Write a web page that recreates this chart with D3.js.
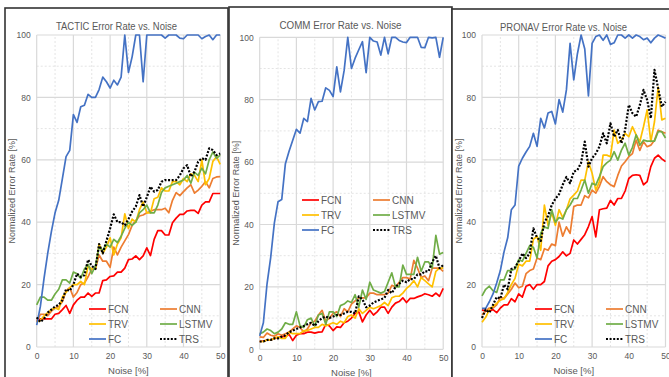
<!DOCTYPE html>
<html>
<head>
<meta charset="utf-8">
<script src="https://cdn.jsdelivr.net/npm/d3@7/dist/d3.min.js"></script>
<style>
  body { margin: 0; background: #fff; }
  svg { display: block; font-family: "Liberation Sans", Arial, sans-serif; }
</style>
</head>
<body>
<div id="chart"></div>
<script>
// noise levels (x categories)
var noise = d3.range(0, 51);
var yTicks = [0, 20, 40, 60, 80, 100];
var xTicks = [0, 10, 20, 30, 40, 50];
var seriesNames = ["FCN", "CNN", "TRV", "LSTMV", "FC", "TRS"];
var titles = ["TACTIC Error Rate vs. Noise", "COMM Error Rate vs. Noise", "PRONAV Error Rate vs. Noise"];

// TACTIC
var tacticFCN = [8.5,9,9,9,9,10.5,10.8,12,13.3,10.8,13.5,15,16,16,17.3,16.2,17.3,17.3,21.3,21.5,22.6,22.8,24,24,25.3,28,28.2,29.2,28,29.2,31.8,29.3,34.5,37.3,37.3,35.9,35.9,39.8,41.3,42.5,42.5,43.6,43.8,43.8,42.8,45.5,46.5,46.5,49.2,49.2,49.2];
var tacticCNN = [8,10.5,10.5,10,11.5,12.5,13,14.5,18,19,16,17.5,20,20.5,22.5,25,25,29.5,27.5,27.5,25.5,32,29.5,32,34,36,39,40.5,42,42.3,43,43.5,44,44,44,44.5,43,47,49.5,48.5,49.8,51,52,49.3,50.3,51.5,53,51,54,54.5,54.6];
var tacticTRV = [8,8.5,10,11,12,12.5,12,16,17.5,19,20,20,21,20,26,25,25,33,30,32,35,29.5,33,35,42.7,38,41,40,44,46.5,43,43,47.5,48,51,50,50,53,53,52,54,53,55.5,55,53,60,52,54,59.5,61,58.5];
var tacticLSTMV = [13.5,16,16,15,15,17,18.5,21.5,21.5,20.5,24,23.5,22,25,26.5,23.5,26,32,31,33,32,34.5,33.5,35.5,38,40,39,40,43,44,45.5,43,43,45.5,49.5,51,51.5,52,52.5,53,53.5,55,52.5,56,55,57.3,55.5,60,62.5,60.5,61.5];
var tacticFC = [7,13,22,30,37,43,47,54,61,63,74.5,72,77,77.5,81,80,80,82.5,86.5,85,83,85.5,84,86.5,100,88,93,100,100,85,100,100,100,100,100,99,100,100,100,99,98.8,100,100,100,100,98.8,99.5,100,98.5,100,100];
var tacticTRS = [9.5,8,9,11,12,13,13.5,15,18.5,18,20,23.5,22.5,23,28,26,25,33,30,34,38,42.5,40,40,39,41,43.4,45,48.7,45,48,51.4,49.8,50.3,53,53.5,53.5,53.5,53.5,55,57.3,58.3,54.6,56.2,59.4,60.5,60,63.7,63.1,61.5,62];

// COMM
var commFCN = [2.5,2.6,3,3,3.5,3.8,4.2,4,4.8,2.8,4.5,5,5,5.5,5.5,5.2,5.5,5.6,8,7.5,6,7.2,7,8.5,9,10,11.5,12,8.8,11,12.5,11,12,13.5,13.5,11.5,13.5,14.8,15.3,16.5,15,16.3,16.3,16.8,17.2,17.8,17.5,17,18,17,19.5];
var commCNN = [4,3.8,5.2,4.5,4.2,5,4.5,5,5.5,6.5,7.5,7,5.5,6.5,8.5,9,11,12.5,9,10,11.5,12,10.5,13,12,14.5,15.5,16.5,16.5,16.5,18,18,17.5,17.5,17.5,18,20.5,20,21.5,23,23,22.5,28.5,26,23,23.5,22,26,26,26,25];
var commTRV = [2.5,2.5,3,3,3.5,4,3.5,3.5,5.5,5,5,5,6,6,6.5,7,7,8,7.5,8,8.5,8,9,8.5,10.5,11,10,13,11.5,12.5,13.5,13,13.5,14,15,14,16.5,17,17,18,19.5,20.5,22,20,23,22,21,20,25,26,26];
var commLSTMV = [5,5.5,6.5,6,5,5.5,6.5,8.5,8,8,12,7.5,7,9.5,10,7.5,11,11.5,8,12,12,10.5,14,14.5,15.5,15,17.5,13.5,19,16,21.5,19,18.5,18,18.5,21.5,24.5,20,20,27,24,24,24,29.5,25,28,28,26,36.5,30.5,31];
var commFC = [4.3,8.5,21,29.5,40.5,47.3,48,59.5,63.5,67,70.5,69.3,74,73,80.4,76.7,79.4,79.5,83.8,83,81,90.5,82.5,89.3,100,90,93.3,96,98.6,88.7,100,98.8,98.5,94.3,100,94.7,100,100,99,98.5,98.3,100,100,100,96.8,96.7,100,99.8,100,93.6,100];
var commTRS = [2.5,2.5,3,3,3.5,3.5,4,4.5,5.5,6,6.5,7,7.5,8,8.5,7.5,9,10,10.5,10,10.5,11,11,11.5,12,12,11.5,17,16,13.5,14,15,15.5,16,16.5,19,18,20,21,22,21.5,22.5,22.5,24,24,25,25,28,30,26,27];

// PRONAV
var pronavFCN = [11.9,11.5,11.5,12,11,12.5,13.5,13.5,15.5,14.5,17,16,19.5,20,18.5,20,20,21,26,27.5,28,29,30.5,29.2,30,34.3,33,34.5,36,38.6,41.8,35.3,44,44.3,44.5,47,45.5,47.6,47.6,50,54,55,55.2,55,52,53,57.8,60.5,61.5,60.3,59.4];
var pronavCNN = [10.3,11.5,12.5,12.5,13.5,16,15.5,17,18.5,20.5,19,19.5,23.5,24.5,25,28.5,28,31.5,31,33,32.5,40,35.5,38.5,36.4,45,45.5,45.5,48.5,47.8,50.3,49.3,51.5,54.6,53,52,51.4,55,58,59.4,61,62,66.3,63,65.8,64.2,64.7,66.3,69.5,69,68.5];
var pronavTRV = [7.9,9.5,12,13,14,15,15.5,17.5,20,22,26.5,26,27.5,27.5,34.5,35.5,31,45.5,39,43,39,44,41.5,44,47.5,48.7,50,53.5,53.5,59.4,55.7,50.3,53,61.5,61.5,61,69.5,65.3,66.3,68.5,67.4,70.6,68,65.8,70.6,76,65.8,72.2,83.3,72.8,73.3];
var pronavLSTMV = [16.4,18.5,19.5,18,17.5,21.5,21.5,24.5,24.5,25,28,27.5,30,32.5,32,28.5,36.5,38.5,38,44,40,41.5,41,44,45.5,47.6,47.6,50.3,53.5,49.3,52.5,51.9,54.6,57.8,59,59.9,62.6,59.9,63.1,65.3,61.5,64,68,64.7,66.3,66,66,66,69,69,67];
var pronavFC = [12.4,12.4,14.5,17,20.5,24.5,30.5,35,44,45.5,58,60.5,62.5,64.3,68.5,64.3,73.3,70.2,75,75.5,71.5,79.3,75.3,82.4,97.3,85.6,94,100,95.5,80.5,97.3,99.5,100,98.3,100,97,97.5,100,100,99,100,99,100,99.5,98.5,99,97.5,99,100,99.5,99];
var pronavTRS = [9.3,12,11,13.5,16,15.5,20,18.5,25,25.5,27.5,30,28.5,30,38,35,34,40,42,45.5,47.5,49,52,54.5,52.5,56.2,56.7,59,65.8,57.8,60.5,62,64.2,68.5,65.3,71.7,67.4,69.6,65.3,69.6,77.6,74.9,73.8,77.5,82.4,79.2,73.3,88.8,82.9,77,78.6];

var colors = {FCN: "#ff0000", CNN: "#ed7d31", TRV: "#ffc000", LSTMV: "#70ad47", FC: "#4472c4", TRS: "#000000"};

var panels = [
  {title: titles[0], titleW: 121, frame: [5, 8], plot: [36.7, 35], legend: [89, 309],
   data: {FCN: tacticFCN, CNN: tacticCNN, TRV: tacticTRV, LSTMV: tacticLSTMV, FC: tacticFC, TRS: tacticTRS}},
  {title: titles[1], titleW: 122, frame: [229, 7], plot: [259.7, 37.3], legend: [302, 200],
   data: {FCN: commFCN, CNN: commCNN, TRV: commTRV, LSTMV: commLSTMV, FC: commFC, TRS: commTRS}},
  {title: titles[2], titleW: 127, frame: [452, 9], plot: [482, 35], legend: [535, 309],
   data: {FCN: pronavFCN, CNN: pronavCNN, TRV: pronavTRV, LSTMV: pronavLSTMV, FC: pronavFC, TRS: pronavTRS}}
];

var frameW = 223, frameH = 390, plotW = 183.5, plotH = 312;

var svg = d3.select("#chart").append("svg")
    .attr("width", 669)
    .attr("height", 377);

panels.forEach(function(p) {
  var g = svg.append("g");

  g.append("rect")
      .attr("x", p.frame[0]).attr("y", p.frame[1])
      .attr("width", frameW).attr("height", frameH)
      .attr("fill", "#fff")
      .attr("stroke", "#333")
      .attr("stroke-width", 1.6);

  var x = d3.scaleLinear().domain([0, 50]).range([p.plot[0], p.plot[0] + plotW]);
  var y = d3.scaleLinear().domain([0, 100]).range([p.plot[1] + plotH, p.plot[1]]);

  // minor grid
  g.selectAll(".vminor").data(d3.range(5, 50, 10)).enter().append("line")
      .attr("x1", function(d) { return x(d); }).attr("x2", function(d) { return x(d); })
      .attr("y1", y(0)).attr("y2", y(100))
      .attr("stroke", "#e4e4e4").attr("stroke-dasharray", "2,2");
  g.selectAll(".hminor").data(d3.range(10, 100, 20)).enter().append("line")
      .attr("x1", x(0)).attr("x2", x(50))
      .attr("y1", function(d) { return y(d); }).attr("y2", function(d) { return y(d); })
      .attr("stroke", "#e4e4e4").attr("stroke-dasharray", "2,2");

  // major grid
  g.selectAll(".vmajor").data(xTicks).enter().append("line")
      .attr("x1", function(d) { return x(d); }).attr("x2", function(d) { return x(d); })
      .attr("y1", y(0)).attr("y2", y(100))
      .attr("stroke", "#d9d9d9").attr("stroke-width", 1.2);
  g.selectAll(".hmajor").data(yTicks).enter().append("line")
      .attr("x1", x(0)).attr("x2", x(50))
      .attr("y1", function(d) { return y(d); }).attr("y2", function(d) { return y(d); })
      .attr("stroke", "#d9d9d9").attr("stroke-width", 1.2);

  // axes
  var ya = g.append("g").attr("transform", "translate(" + x(0) + ",0)")
      .call(d3.axisLeft(y).tickValues(yTicks).tickSize(0).tickPadding(6));
  var xa = g.append("g").attr("transform", "translate(0," + y(0) + ")")
      .call(d3.axisBottom(x).tickValues(xTicks).tickSize(0).tickPadding(6));
  [ya, xa].forEach(function(a) {
    a.select(".domain").remove();
    a.selectAll("text").attr("fill", "#595959").style("font-size", "8.5px")
      .style("font-family", "'Liberation Sans', Arial, sans-serif");
  });

  g.append("text")
      .attr("x", p.frame[0] + frameW / 2).attr("y", p.frame[1] + 22)
      .attr("text-anchor", "middle")
      .attr("fill", "#595959").style("font-size", "11px")
      .attr("textLength", p.titleW).attr("lengthAdjust", "spacingAndGlyphs")
      .text(p.title);

  g.append("text")
      .attr("x", x(25)).attr("y", y(0) + 27)
      .attr("text-anchor", "middle")
      .attr("fill", "#595959").style("font-size", "9.5px")
      .text("Noise [%]");

  g.append("text")
      .attr("transform", "translate(" + (p.frame[0] + 10) + "," + y(50) + ") rotate(-90)")
      .attr("text-anchor", "middle")
      .attr("fill", "#595959").style("font-size", "9px")
      .text("Normalized Error Rate [%]");

  // series
  var line = d3.line()
      .x(function(d, i) { return x(noise[i]); })
      .y(function(d) { return y(d); });

  seriesNames.forEach(function(name) {
    g.append("path")
        .datum(p.data[name])
        .attr("fill", "none")
        .attr("stroke", colors[name])
        .attr("stroke-width", name == "TRS" ? 2.2 : 1.7)
        .attr("stroke-dasharray", name == "TRS" ? "2,1.6" : null)
        .attr("stroke-linejoin", "round")
        .attr("d", line);
  });

  // legend
  seriesNames.forEach(function(name, i) {
    var lx = p.legend[0] + (i % 2) * 71,
        ly = p.legend[1] + Math.floor(i / 2) * 15;
    g.append("line")
        .attr("x1", lx).attr("x2", lx + 17)
        .attr("y1", ly).attr("y2", ly)
        .attr("stroke", colors[name])
        .attr("stroke-width", name == "TRS" ? 2.2 : 1.7)
        .attr("stroke-dasharray", name == "TRS" ? "2,1.6" : null);
    g.append("text")
        .attr("x", lx + 19).attr("y", ly + 3.5)
        .attr("fill", "#595959").style("font-size", "10px")
        .text(name);
  });
});
</script>
</body>
</html>
